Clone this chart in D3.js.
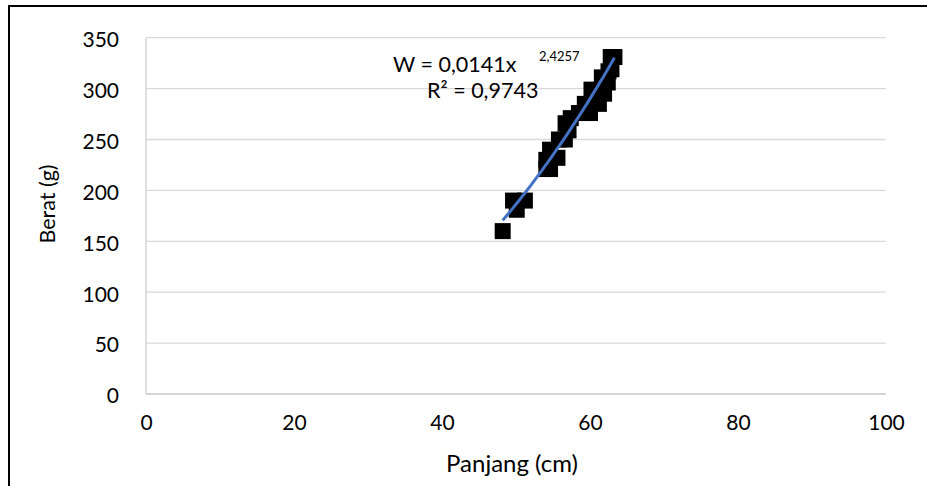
<!DOCTYPE html>
<html>
<head>
<meta charset="utf-8">
<script src="https://cdn.jsdelivr.net/npm/d3@7"></script>
<style>
  html, body { margin: 0; padding: 0; background: #fff; }
  svg { display: block; font-family: Lato, "Open Sans", sans-serif; }
</style>
</head>
<body>
<svg id="chart" width="927" height="486"></svg>
<script>
// ---- data ----
const panjang = [48.2, 49.6, 50.1, 51.2, 54.1, 54.6, 54.1, 54.6, 55.6, 55.8, 56.6, 56.7, 57.1, 57.4, 58.5, 59.3, 60.0, 60.2, 61.2, 61.6, 61.9, 62.4, 62.5, 62.9, 62.8, 63.3];
const berat   = [160, 190, 181, 190, 221, 221, 230, 240, 232, 250, 250, 266, 259, 271, 276, 285, 276, 299, 285, 311, 295, 306, 317, 319, 331, 331];
const xTicks = [0, 20, 40, 60, 80, 100];
const yTicks = [0, 50, 100, 150, 200, 250, 300, 350];
const trendA = 0.0141, trendB = 2.4257;
const eqMain = "W = 0,0141x";
const eqExp = "2,4257";
const r2Label = "R² = 0,9743";
const xTitle = "Panjang (cm)";
const yTitle = "Berat (g)";

const svg = d3.select("#chart");
const pLeft = 146, pRight = 886, pTop = 37.7, pBottom = 394;

const x = d3.scaleLinear().domain([0, 100]).range([pLeft, pRight]);
const y = d3.scaleLinear().domain([0, 350]).range([pBottom, pTop]);

// outer border
svg.append("rect").attr("x", 9).attr("y", 6).attr("width", 940).attr("height", 500)
  .attr("fill", "none").attr("stroke", "#000").attr("stroke-width", 2);

// gridlines
svg.append("g").selectAll("line").data(yTicks).join("line")
  .attr("x1", pLeft).attr("x2", pRight)
  .attr("y1", d => y(d)).attr("y2", d => y(d))
  .attr("stroke", "#d9d9d9").attr("stroke-width", 1.3);

// y axis line
svg.append("line").attr("x1", pLeft).attr("x2", pLeft).attr("y1", pTop).attr("y2", pBottom)
  .attr("stroke", "#d0d0d0").attr("stroke-width", 1.3);

// axes tick labels
const yAxis = d3.axisLeft(y).tickValues(yTicks).tickSize(0).tickPadding(27);
const gy = svg.append("g").attr("transform", `translate(${pLeft},0)`).call(yAxis);
gy.select(".domain").remove();
gy.selectAll("text").attr("font-size", 21).attr("fill", "#000").attr("font-family", "Lato").attr("dy", "0.42em");

const xAxis = d3.axisBottom(x).tickValues(xTicks).tickSize(0).tickPadding(21);
const gx = svg.append("g").attr("transform", `translate(0,${pBottom})`).call(xAxis);
gx.select(".domain").remove();
gx.selectAll("text").attr("font-size", 21).attr("fill", "#000").attr("font-family", "Lato");

// x axis line
svg.append("line").attr("x1", pLeft).attr("x2", pRight).attr("y1", pBottom).attr("y2", pBottom)
  .attr("stroke", "#d0d0d0").attr("stroke-width", 1.3);

// titles
svg.append("text").attr("x", 512).attr("y", 472).attr("text-anchor", "middle")
  .attr("font-size", 24).text(xTitle);
svg.append("text").attr("transform", "translate(55,204) rotate(-90)").attr("text-anchor", "middle")
  .attr("font-size", 21.5).text(yTitle);

// markers
const pts = panjang.map((p, i) => ({ p, w: berat[i] }));
const ms = 16;
svg.append("g").selectAll("rect").data(pts).join("rect")
  .attr("x", d => x(d.p) - ms / 2).attr("y", d => y(d.w) - ms / 2)
  .attr("width", ms).attr("height", ms).attr("fill", "#000");

// power trendline
const xmin = d3.min(panjang), xmax = d3.max(panjang);
const trendPts = d3.range(0, 41).map(i => xmin + (xmax - xmin) * i / 40)
  .map(v => [v, trendA * Math.pow(v, trendB)]);
svg.append("path").datum(trendPts)
  .attr("d", d3.line().x(d => x(d[0])).y(d => y(d[1])))
  .attr("fill", "none").attr("stroke", "#4472C4").attr("stroke-width", 3);

// equation label
svg.append("text").attr("x", 393).attr("y", 72).attr("font-size", 21.5).text(eqMain);
svg.append("text").attr("x", 539).attr("y", 61).attr("font-size", 13).text(eqExp);
svg.append("text").attr("x", 427).attr("y", 98).attr("font-size", 21.5).text(r2Label);
</script>
</body>
</html>
